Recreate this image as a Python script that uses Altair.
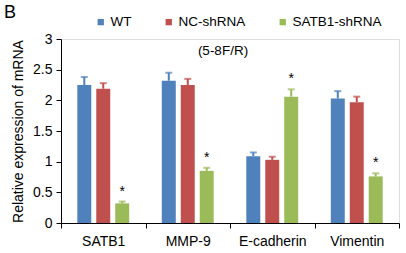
import altair as alt
import pandas as pd

genes = ["SATB1", "MMP-9", "E-cadherin", "Vimentin"]
series = ["WT", "NC-shRNA", "SATB1-shRNA"]
colors = ["#4F81BD", "#C0504D", "#9BBB59"]

wt = [2.25, 2.32, 1.09, 2.03]
nc = [2.19, 2.25, 1.03, 1.97]
sh = [0.32, 0.85, 2.06, 0.76]
wt_err = [0.13, 0.13, 0.06, 0.12]
nc_err = [0.09, 0.10, 0.05, 0.09]
sh_err = [0.03, 0.05, 0.12, 0.05]
sh_sig = ["*", "*", "*", "*"]

rows = []
for i, g in enumerate(genes):
    rows.append({"gene": g, "series": "WT", "value": wt[i], "err": wt_err[i], "star": ""})
    rows.append({"gene": g, "series": "NC-shRNA", "value": nc[i], "err": nc_err[i], "star": ""})
    rows.append({"gene": g, "series": "SATB1-shRNA", "value": sh[i], "err": sh_err[i], "star": sh_sig[i]})
df = pd.DataFrame(rows)

FONT = "Liberation Sans"
YTITLE = "Relative expression of mRNA"

x_axis = alt.Axis(labelAngle=0, tickBand="extent", domainColor="black",
                  tickColor="black", tickSize=5, labelColor="black",
                  labelFontSize=14, labelFont=FONT, labelPadding=6)
x_enc = alt.X("gene:N", sort=genes, title=None,
              scale=alt.Scale(paddingInner=0, paddingOuter=0), axis=x_axis)
xo_enc = alt.XOffset("series:N", sort=series,
                     scale=alt.Scale(paddingInner=0.263, paddingOuter=0.86))
y_scale = alt.Scale(domain=[0, 3], nice=False)
y_axis = alt.Axis(values=[0, 0.5, 1, 1.5, 2, 2.5, 3], tickCount=7, format="~g", grid=False,
                  labelOverlap=False,
                  domainColor="black", tickColor="black", tickSize=5,
                  labelColor="black", labelFontSize=14, labelFont=FONT,
                  labelPadding=4, titleFont=FONT, titleFontSize=14,
                  titleFontWeight="normal", titleColor="black", titlePadding=7)
col_scale = alt.Scale(domain=series, range=colors)

base = alt.Chart(df).transform_calculate(top="datum.value + datum.err")

bars = base.mark_bar().encode(
    x=x_enc,
    xOffset=xo_enc,
    y=alt.Y("value:Q", scale=y_scale, title=YTITLE, axis=y_axis),
    color=alt.Color("series:N", sort=series, scale=col_scale,
                    legend=alt.Legend(title=None, orient="none", direction="horizontal",
                                      legendX=33, legendY=-24, symbolType="square",
                                      symbolSize=40, symbolStrokeWidth=0,
                                      labelFontSize=13.5, labelFont=FONT, labelColor="black",
                                      labelOffset=3, columnPadding=30, symbolOpacity=1)),
)

err_rule = base.mark_rule(strokeWidth=2).encode(
    x=x_enc,
    xOffset=xo_enc,
    y=alt.Y("value:Q", scale=y_scale, title=YTITLE, axis=y_axis),
    y2="top:Q",
    color=alt.Color("series:N", sort=series, scale=col_scale, legend=None),
)

err_cap = base.mark_tick(orient="horizontal", size=7, thickness=2).encode(
    x=x_enc,
    xOffset=xo_enc,
    y=alt.Y("top:Q", scale=y_scale, title=YTITLE, axis=y_axis),
    color=alt.Color("series:N", sort=series, scale=col_scale, legend=None),
)

stars = base.mark_text(fontSize=14, font=FONT, color="black", baseline="middle", dy=-10).encode(
    x=x_enc,
    xOffset=xo_enc,
    y=alt.Y("top:Q", scale=y_scale, title=YTITLE, axis=y_axis),
    text="star:N",
)

note = alt.Chart(pd.DataFrame({"t": ["(5-8F/R)"]})).mark_text(
    fontSize=13.5, font=FONT, color="black", align="center", baseline="middle"
).encode(x=alt.value(162), y=alt.value(12), text="t:N")

panel = alt.Chart(pd.DataFrame({"t": ["B"]})).mark_text(
    fontSize=18, font=FONT, color="black", align="left", baseline="top"
).encode(x=alt.value(-57), y=alt.value(-35), text="t:N")

chart = alt.layer(bars, err_rule, err_cap, stars, note, panel).properties(
    width=338, height=184,
    autosize=alt.AutoSizeParams(type="none"),
    padding={"left": 61, "top": 39, "right": 7, "bottom": 30},
).configure_view(stroke=None).configure(background="white")

chart.save("out.html", embed_options={"renderer": "svg", "actions": False})
